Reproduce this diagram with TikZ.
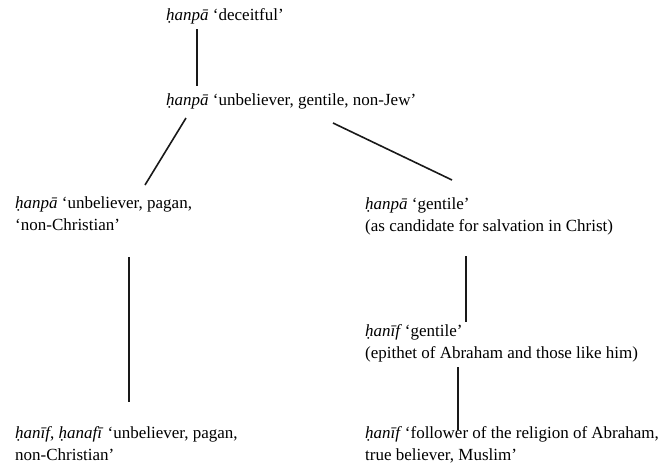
\documentclass[tikz,border=0pt]{standalone}
\usepackage{fontspec}
\setmainfont{Liberation Serif}
\usetikzlibrary{calc}
\tikzset{
  gloss/.style={anchor=base west, inner sep=0pt, align=left, font=\fontsize{17}{22}\selectfont},
  link/.style={line width=1.6pt, black!90}
}
\begin{document}
\begin{tikzpicture}[x=1pt,y=-1pt]
\useasboundingbox[fill=white] (0,0) rectangle (667,466);
% single-line nodes: base = baseline; two-line nodes: base = baseline of last line
\node[gloss] (t1) at (166,20) {\textit{ḥanpā} ‘deceitful’};
\node[gloss] (t2) at (166,105) {\textit{ḥanpā} ‘unbeliever, gentile, non-Jew’};
\node[gloss] (t3) at (15,230) {\textit{ḥanpā} ‘unbeliever, pagan,\\‘non-Christian’};
\node[gloss] (t4) at (365,231) {\textit{ḥanpā} ‘gentile’\\(as candidate for salvation in Christ)};
\node[gloss] (t4b) at (365,358) {\textit{ḥanīf}\,‘gentile’\\(epithet of Abraham and those like him)};
\node[gloss] (t5) at (15,460) {\textit{ḥanīf}, \textit{ḥanafī} ‘unbeliever, pagan,\\non-Christian’};
\node[gloss] (t6) at (365,460) {\textit{ḥanīf}\,‘follower of the religion of Abraham,\\true believer, Muslim’};
\draw[link] ($(t1.base west)+(31,9)$) -- ($(t2.base west)+(31,-19)$);
\draw[link] ($(t2.base west)+(20,13)$) -- ($(t3.base west)+(130,-45)$);
\draw[link] ($(t2.base west)+(167,18)$) -- ($(t4.base west)+(87,-51)$);
\draw[link] ($(t3.base west)+(114,27)$) -- ($(t5.base west)+(114,-58)$);
\draw[link] ($(t4.base west)+(101,25)$) -- ($(t4b.base west)+(101,-36)$);
\draw[link] ($(t4b.base west)+(93,9)$) -- ($(t6.base west)+(93,-30)$);
\end{tikzpicture}
\end{document}
